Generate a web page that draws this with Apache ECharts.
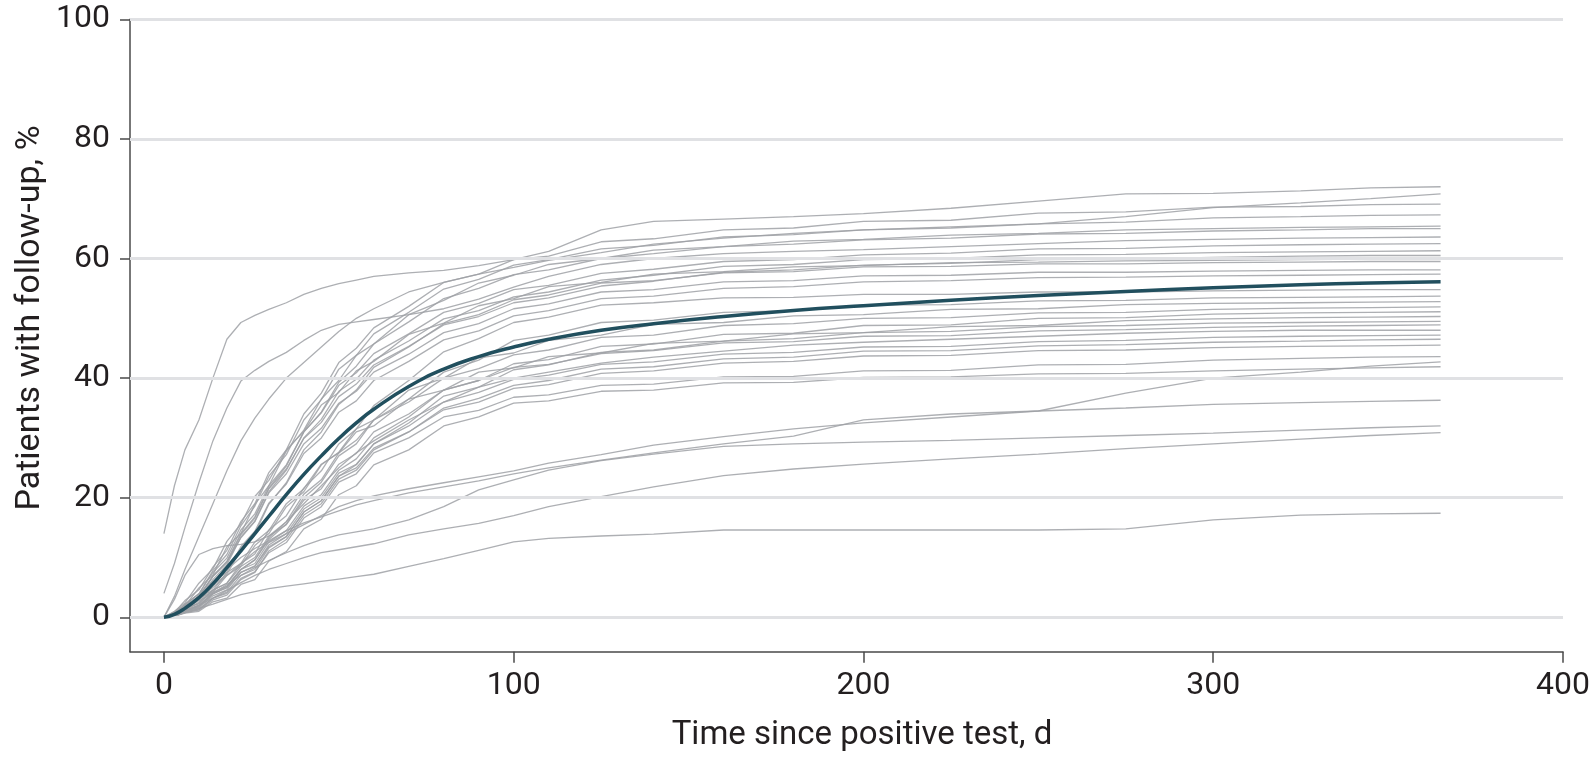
<!DOCTYPE html>
<html>
<head>
<meta charset="utf-8">
<script src="https://cdn.jsdelivr.net/npm/echarts@6/dist/echarts.min.js"></script>
<style>
  html, body { margin: 0; padding: 0; background: #fff; }
  #chart { width: 1594px; height: 757px; }
</style>
</head>
<body>
<div id="chart"></div>
<script>
// days since positive test, shared by every site curve
const days = [0, 3, 6, 10, 14, 18, 22, 26, 30, 35, 40, 45, 50, 55, 60, 70, 80, 90, 100, 110, 125, 140, 160, 180, 200, 225, 250, 275, 300, 325, 345, 365];
const xTicks = [0, 100, 200, 300, 400];
const yTicks = [0, 20, 40, 60, 80, 100];

// pooled curve (bold)
const meanLine = [0, 0.5, 1.5, 3.3, 5.6, 8.3, 11.1, 14.0, 16.9, 20.5, 23.9, 27.0, 29.9, 32.5, 34.8, 38.6, 41.5, 43.6, 45.2, 46.5, 48.0, 49.1, 50.3, 51.3, 52.1, 53.0, 53.8, 54.5, 55.1, 55.6, 55.9, 56.1];

// individual sites (grey)
const siteA = [14, 22, 28, 33, 40, 46.5, 49.3, 50.5, 51.5, 52.6, 54, 55, 55.8, 56.4, 57, 57.6, 58, 58.8, 59.8, 61.2, 64.8, 66.2, 66.6, 67, 67.5, 68.4, 69.6, 70.8, 70.9, 71.3, 71.8, 72.0];
const siteB = [4, 9, 15, 22.5, 29.5, 35, 39.5, 41.3, 42.8, 44.3, 46.3, 48, 49, 49.4, 49.8, 50.6, 51.6, 53.2, 55.2, 57, 59, 60, 60.8, 61.2, 61.5, 62, 62.5, 63, 63.2, 63.4, 63.5, 63.6];
const siteC = [0, 3.5, 8, 13.5, 19, 24.5, 29.5, 33.3, 36.5, 40, 42.6, 45.2, 47.8, 50, 51.6, 54.4, 56, 57.4, 58.5, 59.7, 61, 62.4, 63.4, 64.2, 64.8, 65.3, 65.8, 67, 68.5, 69.3, 70, 70.8];
const siteD = [0, 3, 7, 10.5, 11.5, 12, 12.2, 12.6, 13.6, 16, 19, 22, 25, 27.5, 29.5, 33, 36, 38.5, 40, 41, 42.5, 43.5, 44.5, 45.5, 46, 46.5, 47, 47.5, 47.8, 48, 48, 48.0];
const siteU1 = [0, 0.8, 2.8, 4.6, 8.4, 11.2, 16, 19, 24.2, 28, 34, 37.5, 42.6, 45, 48.4, 52, 56, 57.4, 59.8, 60.4, 62.8, 63.3, 64.8, 65.1, 66.2, 66.4, 67.6, 67.8, 68.6, 68.7, 69, 69.1];
const siteU2 = [0, 0.5, 2.2, 3.9, 7.8, 10.5, 15.3, 18.6, 23.6, 27.2, 33, 36.4, 41.5, 43.8, 47.4, 51, 54.9, 56.5, 58.9, 59.8, 61.6, 62.2, 63.6, 64, 64.8, 65.1, 65.8, 66.1, 66.8, 67, 67.2, 67.3];
const siteU3 = [0, 0.9, 1.9, 4.9, 7.1, 11.8, 14, 18.9, 22, 27.8, 31.3, 36.5, 39.6, 43.8, 45.7, 50.6, 53, 55.9, 57.2, 59, 60, 61.4, 62, 62.9, 63.2, 63.9, 64.2, 64.8, 65, 65.2, 65.3, 65.4];
const siteU4 = [0, 0.4, 1.9, 3.5, 6.9, 9.4, 14, 16.8, 21.6, 25.3, 31, 34.3, 39.3, 42, 45.7, 49.4, 53.3, 55, 57.3, 58.1, 60, 60.8, 62, 62.4, 63.1, 63.4, 64.1, 64.2, 64.6, 64.8, 65, 65.0];
const siteU5 = [0, 0.6, 2.2, 3.9, 7.5, 9.9, 14.6, 17.3, 22, 25.5, 31, 34.2, 38.8, 40.9, 44.1, 47.4, 51, 52.5, 54.8, 55.5, 57.5, 58.2, 59.5, 59.8, 60.6, 60.9, 61.6, 61.7, 62.1, 62.3, 62.4, 62.5];
const siteU6 = [0, 0.3, 1.6, 3, 6.3, 8.8, 13.4, 16.1, 21, 24.6, 30, 33.1, 37.8, 39.8, 43, 46.2, 49.9, 51.3, 53.6, 54.4, 56.4, 57.2, 58.7, 59, 59.8, 60, 60.6, 60.7, 61, 61.1, 61.2, 61.3];
const siteU7 = [0, 0.5, 1.9, 3.4, 6.9, 9.2, 13.8, 16.6, 21.5, 24.8, 29.9, 32.6, 36.9, 39, 42.2, 45.3, 48.9, 50.3, 52.6, 53.4, 55.4, 56.2, 57.7, 58.1, 58.9, 59.2, 59.8, 59.9, 60.2, 60.4, 60.5, 60.5];
const siteU8 = [0, 1, 2.4, 5.7, 8.1, 12.7, 15.6, 20.2, 22.9, 28, 31.1, 35.5, 37.6, 41.2, 42.8, 47.3, 49.2, 52.1, 53.3, 55.3, 56, 57.4, 57.8, 58.6, 58.8, 59.3, 59.4, 59.6, 59.7, 59.8, 59.9, 59.9];
const siteU9 = [0, 0.3, 1.3, 2.5, 5.3, 7.2, 11.3, 14, 18.9, 22.5, 28, 31, 35.6, 38, 41.8, 45.2, 49.1, 50.6, 53.1, 53.9, 55.9, 56.3, 57.6, 57.8, 58.6, 58.7, 59.1, 59.1, 59.3, 59.4, 59.5, 59.5];
const siteU10 = [0, 0.5, 1.9, 3.5, 6.8, 9.2, 13.3, 16, 20.8, 24, 29, 31.6, 35.8, 37.8, 41, 44, 47.6, 49.1, 51.6, 52.4, 54.4, 54.8, 56.1, 56.3, 57.1, 57.2, 57.7, 57.7, 57.9, 58, 58.1, 58.1];
const siteU11 = [0, 0.4, 1.7, 3, 5.8, 7.6, 11.8, 14.4, 19.1, 22.3, 27.4, 30, 34.3, 36.2, 39.6, 42.8, 46.4, 47.9, 50.4, 51.3, 53.3, 53.7, 55, 55.3, 56.1, 56.3, 56.8, 56.9, 57.1, 57.2, 57.3, 57.4];
const siteL1 = [0, 0.3, 1.5, 2.3, 4.5, 5.7, 9, 10.6, 14.6, 17, 21.6, 24.5, 29, 31.5, 35.4, 39.6, 44.4, 46.6, 49.3, 50.2, 52.2, 52.6, 53.4, 53.5, 54, 54, 54.4, 54.4, 54.6, 54.7, 54.8, 54.8];
const siteL2 = [0, 0.2, 1, 1.8, 3.9, 5.2, 8, 9.6, 13, 15.6, 20, 22.6, 27, 29, 33, 36.5, 41, 43, 46.3, 47.2, 49.3, 49.7, 51, 51.3, 52.2, 52.3, 52.9, 53, 53.4, 53.5, 53.6, 53.7];
const siteL3 = [0, 0.5, 1.2, 3.2, 4.2, 7, 8.6, 12, 14, 18.5, 21, 25.5, 27.6, 31.5, 33, 38, 40, 43.4, 44.2, 46.3, 47.2, 49, 49.3, 50.4, 50.6, 51.5, 51.6, 52.3, 52.5, 52.6, 52.7, 52.8];
const siteL4 = [0, 0.2, 1.1, 1.8, 3.9, 5, 8, 9.6, 13.3, 16, 20.6, 23, 27.5, 29.6, 33, 36, 40, 41.6, 43.9, 44.7, 46.8, 47.2, 48.8, 49.1, 50, 50.1, 50.9, 51, 51.5, 51.7, 51.8, 51.9];
const siteL5 = [0, 0.3, 1.2, 2, 4.2, 5.2, 8, 9, 12.6, 14.5, 18.6, 20.5, 24.6, 26.5, 30, 33.5, 38, 39.6, 42.4, 43.1, 45.3, 45.7, 47.3, 47.5, 48.8, 48.9, 50, 50.1, 50.7, 50.9, 51, 51.1];
const siteL6 = [0, 0.6, 1.3, 3.4, 4.5, 7.5, 9, 12.6, 14.5, 19, 21.5, 25.6, 27.5, 31, 32, 36.5, 38, 41, 41.7, 43.6, 44.2, 45.8, 46.2, 47.4, 47.6, 48.6, 48.8, 49.6, 49.9, 50.1, 50.2, 50.3];
const siteL7 = [0, 0.2, 0.8, 1.3, 3.2, 4.2, 7, 8, 11.6, 13.5, 17.6, 19.5, 23.6, 25.5, 29, 32.5, 37, 38.5, 41.4, 42.2, 44.3, 44.7, 46.2, 46.6, 47.6, 47.8, 48.6, 48.8, 49.2, 49.3, 49.4, 49.5];
const siteL8 = [0, 0.4, 1.4, 2.3, 4.6, 5.7, 8.5, 10, 13.6, 15.5, 19.6, 21.5, 25.6, 27.4, 31, 34, 38, 39.6, 41.8, 42.3, 44.1, 44.6, 45.9, 46.1, 47, 47.1, 47.9, 48.1, 48.5, 48.7, 48.8, 48.9];
const siteL9 = [0, 0.3, 1, 1.6, 3.6, 4.6, 7.5, 8.5, 12.1, 14, 18.1, 20, 24.1, 25.6, 29, 32, 36, 37.6, 39.8, 40.5, 42.3, 42.7, 44, 44.3, 45.2, 45.3, 46.1, 46.3, 46.8, 47, 47.1, 47.2];
const siteL10 = [0, 0.2, 0.8, 1.2, 2.9, 3.7, 6.3, 7.5, 11.1, 13, 17.1, 19, 23.1, 24.6, 28, 31, 35, 36.6, 38.8, 39.6, 41.5, 41.9, 43.2, 43.5, 44.5, 44.6, 45.4, 45.6, 46, 46.2, 46.4, 46.5];
const siteL11 = [0, 0.3, 1.2, 2, 4, 4.9, 7.5, 8.6, 11.8, 13.5, 17.6, 19.5, 23.6, 25, 28.3, 31, 34.7, 36, 38.3, 38.9, 40.8, 41.2, 42.5, 42.8, 43.7, 43.8, 44.6, 44.7, 45.1, 45.3, 45.4, 45.5];
const siteL12 = [0, 0.2, 0.9, 1.4, 3.2, 4, 6.5, 7.6, 10.8, 12.5, 16.6, 18.5, 22.6, 24, 27.5, 30, 33.5, 34.6, 36.8, 37.2, 38.8, 39, 40.2, 40.3, 41.2, 41.3, 42.2, 42.3, 43, 43.3, 43.5, 43.6];
const siteG5 = [0, 0.2, 0.7, 1, 2.6, 3.2, 5.5, 6.3, 9.4, 11, 14.8, 16.4, 20.5, 22, 25.5, 28, 32, 33.5, 35.8, 36.2, 37.8, 38, 39.2, 39.3, 40.1, 40.2, 40.7, 40.8, 41.2, 41.5, 41.7, 41.9];
const siteG1 = [0, 0.5, 1.5, 3, 5, 7, 9, 11, 12.5, 14, 15.5, 17, 18.5, 19.5, 20.3, 21.5, 22.5, 23.5, 24.5, 25.8, 27.2, 28.8, 30.2, 31.5, 32.5, 33.5, 34.5, 37.5, 40, 41, 42, 42.7];
const siteG2 = [0, 0.8, 2, 4, 6, 8, 10, 11.5, 12.8, 14.5, 15.8, 16.8, 17.8, 18.8, 19.5, 20.8, 21.8, 22.8, 24, 25, 26.3, 27.5, 29, 30.3, 33, 34, 34.5, 35, 35.6, 35.9, 36.1, 36.3];
const siteG3 = [0, 0.5, 1.5, 2.8, 4, 5.5, 7, 8.3, 9.5, 10.8, 12, 13, 13.8, 14.3, 14.8, 16.3, 18.5, 21.3, 23, 24.6, 26.2, 27.3, 28.6, 29, 29.3, 29.6, 30, 30.4, 30.8, 31.3, 31.7, 32.0];
const siteG4 = [0, 0.3, 1, 2, 3.2, 4.5, 5.8, 7, 8, 9, 10, 10.8, 11.3, 11.8, 12.3, 13.8, 14.8, 15.7, 17, 18.5, 20.2, 21.8, 23.7, 24.8, 25.6, 26.5, 27.3, 28.2, 29, 29.8, 30.4, 30.9];
const siteLow = [0, 0.3, 0.8, 1.5, 2.2, 3, 3.8, 4.3, 4.8, 5.2, 5.6, 6, 6.4, 6.8, 7.2, 8.5, 9.8, 11.2, 12.6, 13.2, 13.6, 13.9, 14.6, 14.6, 14.6, 14.6, 14.6, 14.8, 16.3, 17.1, 17.3, 17.4];

const sites = [siteA, siteB, siteC, siteD, siteU1, siteU2, siteU3, siteU4, siteU5, siteU6, siteU7, siteU8, siteU9, siteU10, siteU11,
  siteL1, siteL2, siteL3, siteL4, siteL5, siteL6, siteL7, siteL8, siteL9, siteL10, siteL11, siteL12, siteG5, siteG1, siteG2, siteG3, siteG4, siteLow];

const FONT = "Roboto";
const AXIS_COLOR = "#4a4a4a";
const TEXT_COLOR = "#231f20";

const pairs = (vals) => days.map((d, i) => [d, vals[i]]);

const series = [
  {
    // light horizontal gridlines, kept under the curves
    type: "line",
    data: [],
    z: 1,
    silent: true,
    markLine: {
      silent: true,
      symbol: "none",
      label: { show: false },
      lineStyle: { color: "#e0e1e4", width: 3, type: "solid" },
      data: yTicks.map((v) => ({ yAxis: v })),
      animation: false,
    },
  },
];
sites.forEach((vals) => {
  series.push({
    type: "line",
    data: pairs(vals),
    showSymbol: false,
    symbol: "none",
    z: 2,
    lineStyle: { color: "#9fa1a6", width: 1.3, opacity: 0.85 },
    silent: true,
  });
});
series.push({
  type: "line",
  data: pairs(meanLine),
  smooth: true,
  symbol: "none",
  z: 5,
  lineStyle: { color: "#214f5e", width: 3.5 },
  silent: true,
});

const chart = echarts.init(document.getElementById("chart"), null, { renderer: "canvas" });
chart.setOption({
  animation: false,
  grid: { left: 130, right: 31, top: 19.3, bottom: 105.3, containLabel: false },
  xAxis: {
    type: "value",
    min: -9.7,
    max: 400,
    axisLine: { show: true, onZero: false, lineStyle: { color: AXIS_COLOR, width: 1.5 } },
    axisTick: { show: true, customValues: xTicks, length: 11, lineStyle: { color: AXIS_COLOR, width: 1.5 } },
    axisLabel: { customValues: xTicks, margin: 18, fontFamily: FONT, fontSize: 32, color: TEXT_COLOR },
    splitLine: { show: false },
  },
  yAxis: {
    type: "value",
    min: -5.75,
    max: 100,
    axisLine: { show: true, onZero: false, lineStyle: { color: AXIS_COLOR, width: 1.5 } },
    axisTick: { show: true, customValues: yTicks, length: 10, lineStyle: { color: AXIS_COLOR, width: 1.5 } },
    axisLabel: { customValues: yTicks, margin: 20, fontFamily: FONT, fontSize: 32, color: TEXT_COLOR },
    splitLine: { show: false },
  },
  graphic: [
    {
      type: "text",
      x: 862,
      y: 736,
      style: { text: "Time since positive test, d", font: `33px ${FONT}`, fill: TEXT_COLOR, align: "center", verticalAlign: "middle" },
    },
    {
      type: "text",
      x: 30,
      y: 318,
      rotation: Math.PI / 2,
      style: { text: "Patients with follow-up, %", font: `34px ${FONT}`, fill: TEXT_COLOR, align: "center", verticalAlign: "middle" },
    },
  ],
  series,
});
</script>
</body>
</html>
